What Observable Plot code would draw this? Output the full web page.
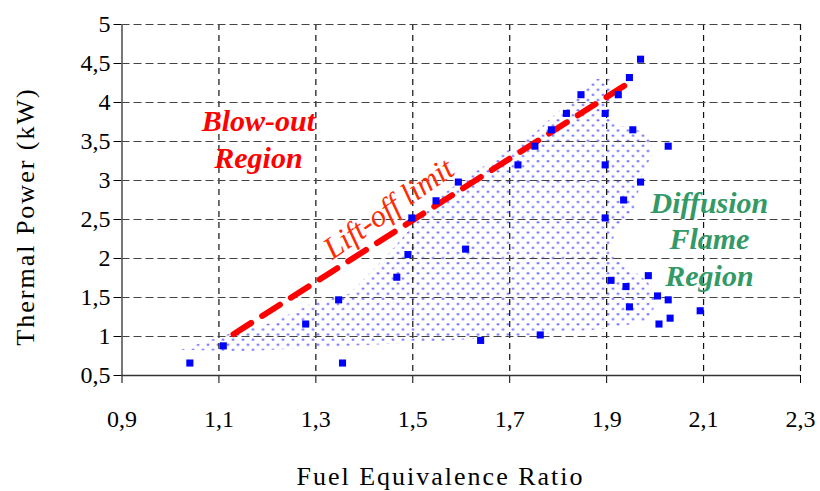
<!DOCTYPE html>
<html>
<head>
<meta charset="utf-8">
<script src="https://cdn.jsdelivr.net/npm/d3@7"></script>
<script src="https://cdn.jsdelivr.net/npm/@observablehq/plot@0.6"></script>
<style>
  html, body { margin: 0; padding: 0; background: #fff; }
  #chart svg { font-family: 'Liberation Serif', serif !important; font-size: 24px !important; }
</style>
</head>
<body>
<div id="chart"></div>
<script>
// Measured points: fuel equivalence ratio vs thermal power (kW)
const phi = [1.040, 1.109, 1.279, 1.347, 1.355, 1.467, 1.490, 1.498, 1.548, 1.594,
             1.609, 1.640, 1.717, 1.752, 1.763, 1.786, 1.817, 1.847, 1.897, 1.897,
             1.897, 1.909, 1.924, 1.935, 1.940, 1.947, 1.947, 1.954, 1.970, 1.970,
             1.986, 2.005, 2.008, 2.027, 2.027, 2.031, 2.093];
const power = [0.66, 0.88, 1.16, 1.47, 0.66, 1.76, 2.05, 2.52, 2.74, 2.98,
               2.12, 0.95, 3.20, 3.44, 1.02, 3.65, 3.86, 4.10, 3.86, 3.20,
               2.52, 1.72, 4.10, 2.75, 1.64, 4.32, 1.38, 3.65, 4.555, 2.98,
               1.78, 1.52, 1.16, 3.44, 1.47, 1.235, 1.33];

// Lift-off limit (dashed line)
const liftPhi = [1.13, 1.943];
const liftPower = [1.03, 4.24];

// Stable (dotted) region outline
const regionPhi = [1.02, 1.13, 1.21, 1.29, 1.37, 1.45, 1.55, 1.65, 1.75, 1.83, 1.875, 1.91,
                   1.905, 1.93, 1.99, 1.995, 1.975, 1.955, 1.92, 1.905, 1.94, 1.985, 2.005,
                   1.985, 1.90, 1.68, 1.50, 1.30, 1.15];
const regionPower = [0.83, 1.05, 1.18, 1.42, 1.55, 2.06, 2.78, 3.2, 3.6, 4.05, 4.3, 4.3,
                     3.8, 3.7, 3.6, 3.35, 3.1, 2.6, 2.4, 2.05, 1.92, 1.7, 1.46,
                     1.2, 1.1, 0.99, 0.92, 0.86, 0.81];

// Axis ticks
const xTicks = [0.9, 1.1, 1.3, 1.5, 1.7, 1.9, 2.1, 2.3];
const yTicks = [0.5, 1, 1.5, 2, 2.5, 3, 3.5, 4, 4.5, 5];

// Annotations
const blowoutText = ["Blow-out", "Region"];
const blowoutPhi = [1.1815, 1.1815];
const blowoutPower = [3.756, 3.288];
const diffusionText = ["Diffusion", "Flame", "Region"];
const diffusionPhi = [2.112, 2.112, 2.112];
const diffusionPower = [2.701, 2.240, 1.769];
const liftText = ["Lift-off limit"];
const liftTextPhi = [1.450];
const liftTextPower = [2.64];

const xTitle = ["Fuel Equivalence Ratio"];
const yTitle = ["Thermal Power (kW)"];

const fmt = d => String(d).replace(".", ",");

const points = phi.map((p, i) => ({phi: p, power: power[i]}));
const lift = liftPhi.map((p, i) => ({phi: p, power: liftPower[i]}));
const region = regionPhi.map((p, i) => ({phi: p, power: regionPower[i]}));
const blowout = blowoutText.map((t, i) => ({t, phi: blowoutPhi[i], power: blowoutPower[i]}));
const diffusion = diffusionText.map((t, i) => ({t, phi: diffusionPhi[i], power: diffusionPower[i]}));
const liftLabel = liftText.map((t, i) => ({t, phi: liftTextPhi[i], power: liftTextPower[i]}));

const serif = "'Liberation Serif', serif";

const chart = Plot.plot({
  width: 820,
  height: 491,
  marginLeft: 121.5,
  marginRight: 20,
  marginTop: 24,
  marginBottom: 116,
  style: {fontFamily: serif, fontSize: "24px", color: "#000", background: "#fff", overflow: "visible"},
  x: {domain: [0.9, 2.3], ticks: xTicks, tickFormat: fmt, label: null, tickSize: 8, tickPadding: 26},
  y: {domain: [0.5, 5], ticks: yTicks, tickFormat: fmt, label: null, tickSize: 8, tickPadding: 3.5},
  marks: [
    Plot.line(region, {x: "phi", y: "power", fill: "url(#dots)", stroke: "none", curve: "linear-closed"}),
    Plot.ruleX(xTicks.slice(1), {stroke: "#111", strokeWidth: 1.2, strokeDasharray: "6,5"}),
    Plot.ruleY(yTicks.slice(1), {stroke: "#444", strokeWidth: 1.2, strokeDasharray: "8,4"}),
    Plot.ruleX([0.9], {stroke: "#555", strokeWidth: 1.6}),
    Plot.ruleY([0.5], {stroke: "#333", strokeWidth: 1.6}),
    Plot.line(lift, {x: "phi", y: "power", stroke: "#ff0000", strokeWidth: 6, strokeDasharray: "21,13"}),
    Plot.dot(points, {x: "phi", y: "power", symbol: "square", r: 4, fill: "#0000ff", stroke: "none"}),
    Plot.text(blowout, {x: "phi", y: "power", text: "t", fill: "#ff0000", fontSize: 30, fontWeight: "bold", fontStyle: "italic", fontFamily: serif}),
    Plot.text(diffusion, {x: "phi", y: "power", text: "t", fill: "#339966", fontSize: 30, fontWeight: "bold", fontStyle: "italic", fontFamily: serif}),
    Plot.text(liftLabel, {x: "phi", y: "power", text: "t", fill: "#ff2a00", fontSize: 31, fontStyle: "italic", rotate: -35, fontFamily: serif}),
    Plot.text(xTitle, {frameAnchor: "bottom", text: d => d, textAnchor: "middle", lineAnchor: "middle", dx: -20.75, dy: 101, fontSize: 26, fontFamily: serif, fill: "#000"}),
    Plot.text(yTitle, {frameAnchor: "left", text: d => d, textAnchor: "middle", lineAnchor: "middle", dx: -96.5, dy: 16.5, rotate: -90, fontSize: 26, fontFamily: serif, fill: "#000"})
  ]
});

d3.select(chart).insert("defs", ":first-child").html(
  `<pattern id="dots" width="10" height="10.2" patternUnits="userSpaceOnUse">
     <circle cx="2.5" cy="2.5" r="1.15" fill="#5a5aff"/>
     <circle cx="7.5" cy="7.6" r="1.15" fill="#5a5aff"/>
   </pattern>`
);

// Widen the axis titles a little, as the original typeface is broad
d3.select(chart).selectAll("text")
  .filter(function() { return this.textContent === xTitle[0] || this.textContent === yTitle[0]; })
  .style("letter-spacing", "2px");

document.getElementById("chart").appendChild(chart);
</script>
</body>
</html>
